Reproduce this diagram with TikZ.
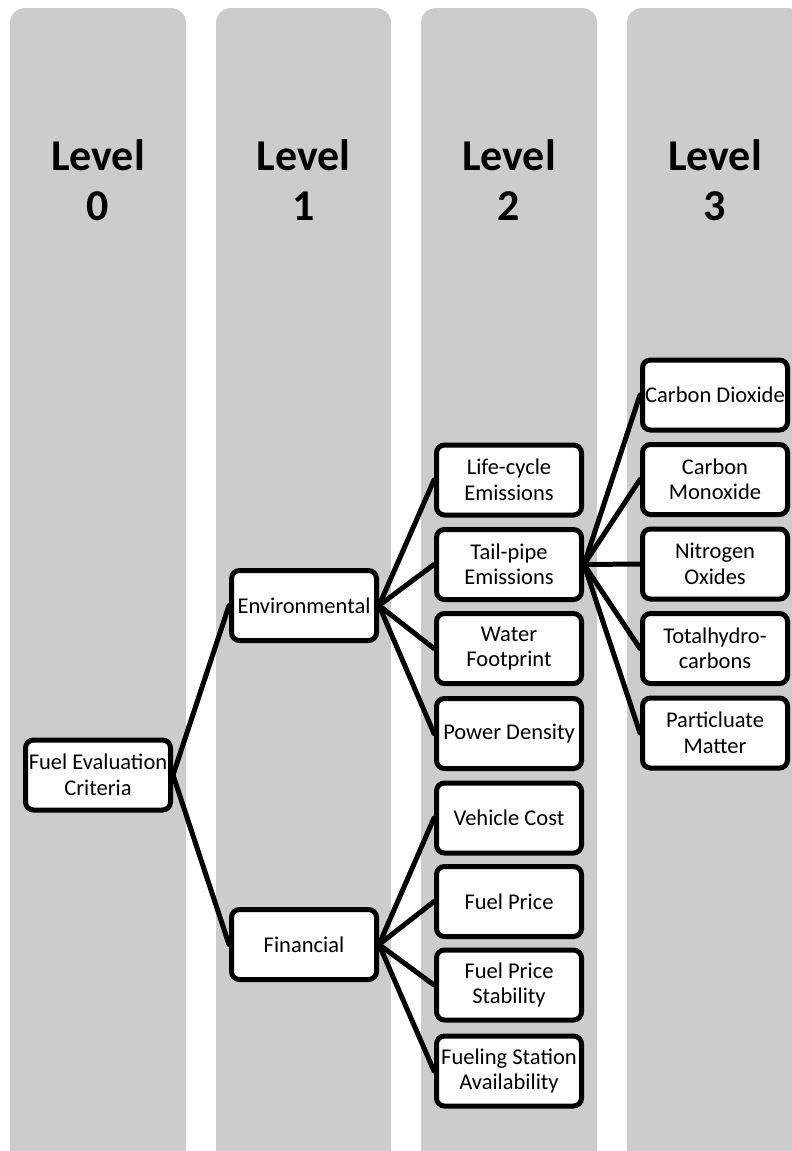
\documentclass[tikz,border=0pt]{standalone}
\usepackage{fontspec}
\setmainfont{Carlito}
\definecolor{colbg}{HTML}{CCCCCC}
\begin{document}
\begin{tikzpicture}[x=1pt,y=-1pt,
  column/.style={fill=colbg, rounded corners=15pt},
  levellabel/.style={font=\fontsize{44}{50}\selectfont\bfseries, align=center, inner sep=0pt},
  box/.style={draw=black, line width=5pt, fill=white, rounded corners=8pt,
    minimum width=145pt, minimum height=70pt, inner sep=0.5pt, align=center,
    font=\fontsize{22.5}{25.5}\selectfont},
  link/.style={line width=5pt, line cap=round}]
\useasboundingbox (0,0) rectangle (792,1151);
\clip (0,0) rectangle (792,1151);
% columns
\fill[column] (10,8) rectangle (186,1166);
\fill[column] (216,8) rectangle (391,1166);
\fill[column] (421,8) rectangle (597,1166);
\fill[column] (627,8) rectangle (803,1166);
% level labels
\node[levellabel] (l0) at (98,180) {Level\\0};
\node[levellabel] (l1) at (303.5,180) {Level\\1};
\node[levellabel] (l2) at (509,180) {Level\\2};
\node[levellabel] (l3) at (715,180) {Level\\3};
% nodes
\node[box] (fec) at (98,775) {Fuel Evaluation\\Criteria};
\node[box] (env) at (304,605.5) {Environmental};
\node[box] (fin) at (304,944.5) {Financial};
\node[box] (life) at (509,480) {Life-cycle\\Emissions};
\node[box] (tail) at (509,564.5) {Tail-pipe\\Emissions};
\node[box] (water) at (509,648.5) {Water\\Footprint};
\node[box] (power) at (509,733.5) {Power Density};
\node[box] (veh) at (509,818) {Vehicle Cost};
\node[box] (fp) at (509,901.5) {Fuel Price};
\node[box] (fps) at (509,985) {Fuel Price\\Stability};
\node[box] (fsa) at (509,1071) {Fueling Station\\Availability};
\node[box] (co2) at (715,395) {Carbon Dioxide};
\node[box] (co) at (715,479.5) {Carbon\\Monoxide};
\node[box] (nox) at (715,564) {Nitrogen\\Oxides};
\node[box] (thc) at (715,648.5) {Totalhydro-\\carbons};
\node[box] (pm) at (715,733) {Particluate\\Matter};
% links
\draw[link] (fec.east) -- (env.west);
\draw[link] (fec.east) -- (fin.west);
\foreach \c in {life,tail,water,power} \draw[link] (env.east) -- (\c.west);
\foreach \c in {veh,fp,fps,fsa} \draw[link] (fin.east) -- (\c.west);
\foreach \c in {co2,co,nox,thc,pm} \draw[link] (tail.east) -- (\c.west);
\end{tikzpicture}
\end{document}
